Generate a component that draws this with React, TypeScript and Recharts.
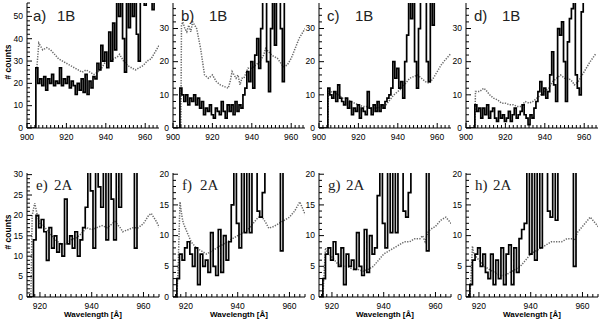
import React from 'react';
import { LineChart, Line, XAxis, YAxis } from 'recharts';

// ---------- wavelength grids (Å) ----------
const wlTop = [
  900, 901, 902, 903, 904, 905, 906, 907, 908, 909,
  910, 911, 912, 913, 914, 915, 916, 917, 918, 919,
  920, 921, 922, 923, 924, 925, 926, 927, 928, 929,
  930, 931, 932, 933, 934, 935, 936, 937, 938, 939,
  940, 941, 942, 943, 944, 945, 946, 947, 948, 949,
  950, 951, 952, 953, 954, 955, 956, 957, 958, 959,
  960, 961, 962, 963, 964, 965, 966, 967,
];
const wlBottom = [
  915, 916, 917, 918, 919, 920, 921, 922, 923, 924,
  925, 926, 927, 928, 929, 930, 931, 932, 933, 934,
  935, 936, 937, 938, 939, 940, 941, 942, 943, 944,
  945, 946, 947, 948, 949, 950, 951, 952, 953, 954,
  955, 956, 957, 958, 959, 960, 961, 962, 963, 964,
  965, 966, 967,
];

// ---------- observed counts (thick histogram) ----------
const aSolid = [
  0, 0, 0, 0, 0, 27, 20, 22, 19, 23,
  17, 22, 20, 24, 19, 21, 20, 27, 19, 22,
  20, 23, 18, 21, 19, 15, 20, 17, 22, 16,
  24, 15, 21, 18, 23, 22, 29, 26, 37, 30,
  34, 27, 43, 30, 47, 35, 60, 50, 60, 40,
  25, 60, 45, 60, 50, 60, 42, 30, 60, 60,
  55, 60, 60, 60, 53, 60, 60, 60,
];
const bSolid = [
  0, 0, 0, 0, 12, 10, 8, 10, 7, 9,
  8, 10, 7, 9, 6, 8, 4, 6, 5, 7,
  4, 3, 6, 5, 4, 8, 5, 3, 7, 5,
  7, 4, 8, 5, 7, 6, 10, 12, 17, 14,
  20, 12, 22, 27, 18, 30, 45, 45, 20, 11,
  30, 45, 25, 45, 45, 30, 14, 45, 45, 45,
  45, 45, 45, 45, 45, 45, 45, 45,
];
const cSolid = [
  0, 0, 0, 0, 0, 12, 10, 9, 11, 8,
  13, 9, 8, 7, 9, 6, 8, 4, 6, 5,
  7, 3, 6, 5, 4, 11, 6, 4, 7, 5,
  8, 5, 7, 6, 8, 9, 10, 12, 20, 15,
  18, 12, 14, 9, 20, 28, 45, 33, 45, 20,
  12, 30, 45, 45, 45, 20, 14, 45, 31, 45,
  45, 45, 45, 45, 45, 45, 45, 45,
];
const dSolid = [
  0, 0, 0, 0, 0, 7, 5, 6, 3, 6,
  4, 7, 3, 5, 6, 3, 2, 5, 3, 4,
  2, 3, 5, 2, 4, 6, 3, 4, 5, 7,
  4, 3, 1, 4, 3, 6, 8, 11, 14, 10,
  12, 9, 11, 16, 23, 13, 8, 30, 28, 32,
  20, 8, 26, 33, 36, 45, 16, 12, 10, 35,
  45, 45, 45, 45, 45, 45, 45, 45,
];
const eSolid = [
  0, 0, 0, 14, 20, 17, 19, 16, 9, 17,
  12, 15, 11, 13, 10, 24, 13, 15, 12, 16,
  10, 14, 17, 22, 35, 26, 12, 35, 27, 22,
  35, 14, 35, 24, 14, 35, 22, 35, 35, 35,
  35, 35, 12, 35, 35, 35, 35, 35, 35, 35,
  35, 35, 35,
];
const fSolid = [
  0, 0, 3, 7, 6, 8, 9, 7, 5, 8,
  2, 7, 5, 6, 4, 10.5, 5, 3.5, 11, 4,
  10, 6, 9, 15, 25, 12, 8, 25, 10.5, 25,
  10.5, 25, 25, 14, 13, 17, 25, 25, 25, 25,
  25, 25, 7.5, 25, 25, 25, 25, 25, 25, 25,
  25, 25, 25,
];
const gSolid = [
  0, 0, 3, 7, 8, 6, 9, 7, 5, 8,
  2, 7, 5, 6, 4.5, 10.5, 5, 3.5, 11, 4,
  10, 7, 8, 16.5, 25, 12, 8, 25, 10.5, 25,
  10.5, 25, 25, 14, 13, 17, 25, 25, 25, 25,
  25, 25, 7.5, 25, 25, 25, 25, 25, 25, 25,
  25, 25, 25,
];
const hSolid = [
  0, 0, 2, 6, 7, 8, 5, 7, 4, 3,
  7, 2, 6, 3, 8, 2, 7, 8.5, 2, 8,
  4, 9.5, 11, 12, 25, 7, 25, 6, 25, 8,
  25, 25, 14, 13, 25, 12.5, 25, 25, 25, 25,
  25, 25, 5, 25, 25, 25, 25, 25, 25, 25,
  25, 25, 25,
];

// ---------- model / background (dotted) ----------
const aDotX = [905, 906, 908, 910, 912, 914, 916, 918, 920, 922, 924, 926, 928, 930, 932, 934, 936, 938, 940, 942, 944, 946, 947, 949, 951, 953, 955, 957, 959, 961, 963, 965, 967];
const aDotY = [27, 38, 35, 36, 35, 33, 31, 30, 29, 28, 27, 26, 25, 26, 25, 24, 25, 27, 30, 30, 31, 32, 33, 30, 28, 27, 26, 27, 28, 30, 31, 34, 37];
const bDotX = [904, 904.3, 905, 906, 907, 908, 909, 910, 911, 912, 913, 914, 915, 916, 918, 920, 922, 924, 926, 928, 929, 930, 932, 933, 934, 935, 936, 938, 940, 942, 944, 946, 947, 950, 953, 956, 958, 960, 962, 964, 966, 967];
const bDotY = [0, 31, 32, 30, 29, 31, 29, 32, 31, 30, 27, 24, 20, 16, 15, 16, 14, 13, 12.5, 12, 14, 17, 15, 16, 13, 15, 15, 18, 18, 19, 20, 22, 24, 22, 21, 18.5, 19, 21, 24, 27, 29, 30];
const cDotX = [904.5, 904.8, 906, 908, 910, 912, 914, 916, 918, 920, 922, 924, 926, 928, 930, 932, 934, 936, 938, 940, 942, 944, 946, 948, 950, 952, 954, 956, 958, 960, 962, 964, 967];
const cDotY = [0, 11, 11, 10.5, 10, 9, 9, 8, 7.5, 7, 6.5, 6.5, 6, 6, 6, 6.5, 7, 8.5, 10, 11, 12, 13.5, 15, 15.5, 16, 15, 14, 13.5, 15, 17, 19, 20.5, 22.5];
const dDotX = [904.5, 904.8, 907, 909, 910, 912, 914, 916, 918, 920, 922, 924, 926, 928, 930, 932, 934, 936, 938, 940, 942, 944, 946, 948, 950, 952, 954, 955, 957, 959, 961, 963, 966];
const dDotY = [0, 11, 11, 12, 11.5, 10, 9, 8.5, 7.5, 7.5, 7, 7, 6.5, 6.5, 8, 7.5, 8, 9, 10, 11, 12, 14, 15, 16, 15, 15, 14, 13, 14, 16, 18, 20, 22.5];
const eDotX = [916.5, 917, 918, 919, 920, 922, 924, 926, 928, 930, 932, 934, 936, 938, 940, 942, 944, 946, 948, 949, 951, 952, 954, 956, 958, 960, 962, 963, 965, 967];
const eDotY = [0, 20, 23, 20, 18, 17, 15.5, 14, 13, 13, 14, 14.5, 15.5, 17, 16.5, 17, 17.5, 17, 18, 18.5, 17, 16, 16.5, 17, 17, 18, 20, 20.5, 18.5, 16];
const fDotX = [916.5, 917, 917.7, 918.5, 919, 920, 922, 924, 926, 928, 930, 932, 934, 936, 938, 940, 942, 944, 946, 948, 949.5, 951, 952, 954, 956, 958, 960, 962, 964, 966, 967];
const fDotY = [0, 5, 15.5, 13, 12, 11, 9, 8, 7.5, 7, 7.5, 8, 8.5, 9, 9.5, 10, 10.5, 11, 12, 13, 13, 12, 11.2, 11.5, 12, 12.5, 13, 14, 15.5, 13.5, 13];
const gDotX = [916.5, 917, 917.5, 918, 919, 920, 922, 924, 926, 928, 930, 932, 934, 936, 938, 939, 940, 942, 944, 946, 948, 950, 952, 954, 955, 956, 957, 958, 960, 962, 964, 966, 967];
const gDotY = [0, 4, 8, 7.5, 7, 6.5, 5.5, 5, 5, 4.5, 4.5, 4.2, 4.5, 5, 6, 6.5, 7, 7.5, 8, 8.5, 9, 9, 9.5, 9.5, 10, 9, 10.5, 11, 11.5, 12.5, 13, 12, 12];
const hDotX = [916.5, 917, 917.5, 918, 919, 920, 922, 924, 926, 928, 930, 932, 934, 936, 938, 940, 942, 944, 946, 948, 950, 952, 954, 956, 957, 958, 960, 962, 963, 965, 967];
const hDotY = [0, 4, 8.3, 7, 6.5, 6, 5, 4.5, 4, 3.5, 3.5, 4, 4.5, 5, 6, 7, 7.5, 8, 8.5, 9, 9, 9, 9.5, 9.5, 9.2, 10.5, 11.5, 12.5, 13, 12, 11];

// ---------- tick labels ----------
const xMajorTop = [900, 920, 940, 960];
const xMajorBottom = [920, 940, 960];
const yMajorA = [0, 10, 20, 30, 40, 50];
const yMajorB = [0, 10, 20, 30];
const yMajorE = [0, 5, 10, 15, 20, 25, 30];
const yMajorF = [0, 5, 10, 15, 20];
const panelLetters = ['a)', 'b)', 'c)', 'd)', 'e)', 'f)', 'g)', 'h)'];
const detectorTop = '1B';
const detectorBottom = '2A';

const range = (a: number, b: number, s: number) => {
  const out: number[] = [];
  for (let v = a; v <= b + 1e-9; v += s) out.push(Math.round(v * 100) / 100);
  return out;
};

const FONT = '"Liberation Sans", Arial, Helvetica, sans-serif';

type P = {
  left: number; top: number; w: number; h: number;
  xd: [number, number]; yd: [number, number];
  xs: number[]; ys: number[]; dx: number[]; dy: number[];
  xMaj: number[]; xMin: number[]; yMaj: number[]; yMin: number[];
  letter: string; det: string; serif: boolean; l1: number; l2: number;
};

const LEFTS = [27, 173, 319, 466];
const PW = 132;

const mk = (i: number, row: number, xs: number[], ys: number[], dx: number[], dy: number[]): P => {
  const top = row === 0;
  const yMaj = top ? (i === 0 ? yMajorA : yMajorB) : (i === 0 ? yMajorE : yMajorF);
  const yMax = top ? (i === 0 ? 56 : 37.7) : (i === 0 ? 30.4 : 20.2);
  const yMinStep = top ? 2 : 1;
  return {
    left: LEFTS[i], top: top ? 3 : 173, w: PW, h: top ? 125 : 124,
    xd: top ? [900, 967] : [915, 966], yd: [0, yMax],
    xs, ys, dx, dy,
    xMaj: top ? xMajorTop : xMajorBottom,
    xMin: top ? range(900, 966, 2) : range(916, 966, 2),
    yMaj, yMin: range(0, Math.floor(yMax), yMinStep),
    letter: panelLetters[row * 4 + i], det: top ? detectorTop : detectorBottom,
    serif: !top,
    l1: top ? (i === 0 ? 6 : 8) : 9,
    l2: top ? (i === 0 ? 30 : 36) : 27,
  };
};

const panels: P[] = [
  mk(0, 0, wlTop, aSolid, aDotX, aDotY),
  mk(1, 0, wlTop, bSolid, bDotX, bDotY),
  mk(2, 0, wlTop, cSolid, cDotX, cDotY),
  mk(3, 0, wlTop, dSolid, dDotX, dDotY),
  mk(0, 1, wlBottom, eSolid, eDotX, eDotY),
  mk(1, 1, wlBottom, fSolid, fDotX, fDotY),
  mk(2, 1, wlBottom, gSolid, gDotX, gDotY),
  mk(3, 1, wlBottom, hSolid, hDotX, hDotY),
];

const isMaj = (arr: number[], v: number) => arr.some((m) => Math.abs(m - v) < 1e-6);

function PanelChart({ p }: { p: P }) {
  const YW = 26, MT = 8, MR = 3, XH = 16;
  const solid = p.xs.map((x, i) => ({ x, y: p.ys[i] }));
  const dotted = p.dx.map((x, i) => ({ x, y: p.dy[i] }));
  const xTicks = Array.from(new Set([...p.xMin, ...p.xMaj])).sort((a, b) => a - b);
  const yTicks = Array.from(new Set([...p.yMin, ...p.yMaj])).sort((a, b) => a - b);

  const bottomTick = (props: any) => {
    const { x, y, payload } = props;
    const m = isMaj(p.xMaj, payload.value);
    return (
      <g>
        <line x1={x} x2={x} y1={y} y2={y - (m ? 5 : 3)} stroke="#000" strokeWidth={1} />
        {m && (
          <text x={x} y={y + 12} textAnchor="middle" fontSize={8.5} fontFamily={FONT} fill="#000">
            {payload.value}
          </text>
        )}
      </g>
    );
  };
  const topTick = (props: any) => {
    const { x, y, payload } = props;
    const m = isMaj(p.xMaj, payload.value);
    return <line x1={x} x2={x} y1={y} y2={y + (m ? 5 : 3)} stroke="#000" strokeWidth={1} />;
  };
  const leftTick = (props: any) => {
    const { x, y, payload } = props;
    const m = isMaj(p.yMaj, payload.value);
    return (
      <g>
        <line x1={x} x2={x + (m ? 5 : 3)} y1={y} y2={y} stroke="#000" strokeWidth={1} />
        {m && (
          <text x={x - 4} y={y + 2.8} textAnchor="end" fontSize={8.5} fontFamily={FONT} fill="#000">
            {payload.value}
          </text>
        )}
      </g>
    );
  };
  const rightTick = (props: any) => {
    const { x, y, payload } = props;
    const m = isMaj(p.yMaj, payload.value);
    return <line x1={x} x2={x - (m ? 5 : 3)} y1={y} y2={y} stroke="#000" strokeWidth={1} />;
  };

  const labelFont = p.serif ? '"Liberation Serif", "Times New Roman", serif' : FONT;

  return (
    <>
      <div style={{ position: 'absolute', left: p.left - YW, top: p.top - MT }}>
        <LineChart
          width={YW + p.w + MR}
          height={MT + p.h + XH}
          margin={{ top: MT, right: MR, bottom: 0, left: 0 }}
        >
          <XAxis
            dataKey="x" type="number" domain={p.xd} allowDataOverflow ticks={xTicks} interval={0}
            tickSize={0} tickMargin={0} tick={bottomTick} tickLine={false} height={XH}
            axisLine={{ stroke: '#000', strokeWidth: 1 }}
          />
          <XAxis
            xAxisId="t" orientation="top" dataKey="x" type="number" domain={p.xd} allowDataOverflow
            ticks={xTicks} interval={0} tickSize={0} tickMargin={0} tick={topTick} tickLine={false}
            height={0} axisLine={{ stroke: '#000', strokeWidth: 1 }}
          />
          <YAxis
            type="number" domain={p.yd} allowDataOverflow ticks={yTicks} interval={0}
            tickSize={0} tickMargin={0} tick={leftTick} tickLine={false} width={YW}
            axisLine={{ stroke: '#000', strokeWidth: 1 }}
          />
          <YAxis
            yAxisId="r" orientation="right" type="number" domain={p.yd} allowDataOverflow ticks={yTicks}
            interval={0} tickSize={0} tickMargin={0} tick={rightTick} tickLine={false} width={0}
            axisLine={{ stroke: '#000', strokeWidth: 1 }}
          />
          <Line
            data={dotted} dataKey="y" type="linear" stroke="#6a6a6a" strokeWidth={1.5}
            strokeDasharray="1.3 1.3" dot={false} isAnimationActive={false}
          />
          <Line
            data={solid} dataKey="y" type="step" stroke="#000" strokeWidth={1.7}
            dot={false} isAnimationActive={false}
          />
        </LineChart>
      </div>
      <div
        style={{
          position: 'absolute', left: p.left + p.l1, top: p.top + 5, fontFamily: labelFont,
          fontSize: 15, lineHeight: '15px', color: '#222', whiteSpace: 'pre',
        }}
      >
        {p.letter}
      </div>
      <div
        style={{
          position: 'absolute', left: p.left + p.l2, top: p.top + 5, fontFamily: labelFont,
          fontSize: 15, lineHeight: '15px', color: '#222', whiteSpace: 'pre',
        }}
      >
        {p.det}
      </div>
    </>
  );
}

export default function App() {
  return (
    <div
      style={{
        position: 'absolute', left: 0, top: 0, width: 600, height: 322,
        background: '#fff', overflow: 'hidden',
      }}
    >
      {panels.map((p, i) => (
        <PanelChart key={i} p={p} />
      ))}
      {[62, 232].map((cy, i) => (
        <div
          key={'yl' + i}
          style={{
            position: 'absolute', left: 8 - 30, top: cy - 6, width: 60, height: 12,
            transform: 'rotate(-90deg)', textAlign: 'center', fontFamily: FONT,
            fontSize: 8.5, fontWeight: 'bold', lineHeight: '12px', color: '#000',
          }}
        >
          # counts
        </div>
      ))}
      {LEFTS.map((l, i) => (
        <div
          key={'xl' + i}
          style={{
            position: 'absolute', left: l + PW / 2 - 50, top: 310, width: 100,
            textAlign: 'center', fontFamily: FONT, fontSize: 8, fontWeight: 'bold',
            lineHeight: '10px', color: '#000',
          }}
        >
          Wavelength [Å]
        </div>
      ))}
    </div>
  );
}
